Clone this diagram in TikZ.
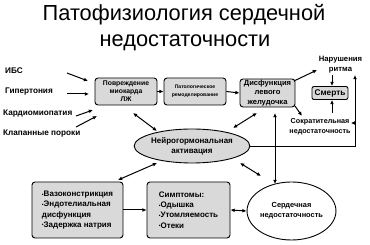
\documentclass[tikz,border=0pt]{standalone}
\usepackage{fontspec}
\setmainfont{Liberation Sans}
\usetikzlibrary{arrows.meta,shapes.geometric}
\newcommand{\bul}{{\fontsize{5}{5}\selectfont\raisebox{0.4pt}{•}}}
\begin{document}
\begin{tikzpicture}[x=1pt,y=-1pt,
  gbox/.style={draw,fill=gray!30,rounded corners=3pt,line width=0.9pt,inner sep=0pt,align=center,font=\bfseries},
  lbl/.style={font=\fontsize{8.2}{9}\selectfont\bfseries,inner sep=0pt},
  arr/.style={-{Latex[length=4.2pt,width=3.8pt]},line width=1pt},
  darr/.style={{Latex[length=4.2pt,width=3.8pt]}-{Latex[length=4.2pt,width=3.8pt]},line width=1pt},
  ln/.style={line width=1pt}]
\useasboundingbox (0,0) rectangle (370,245);
\node[font=\fontsize{21.8}{26}\selectfont,inner sep=0pt,anchor=base] (title1) at (184,21) {Патофизиология сердечной};
\node[font=\fontsize{21.8}{26}\selectfont,inner sep=0pt,anchor=base] (title2) at (185,47) {недостаточности};
% left labels
\node[lbl,anchor=west] (ibs) at (5,71) {ИБС};
\node[lbl,anchor=west] (gip) at (5,92) {Гипертония};
\node[lbl,anchor=west] (kard) at (3,114) {Кардиомиопатия};
\node[lbl,anchor=west] (klap) at (3,134) {Клапанные пороки};
% boxes
\node[gbox,minimum width=62pt,minimum height=27pt,font=\fontsize{6.8}{8}\selectfont\bfseries] (povr) at (126,91.5) {Повреждение\\миокарда\\ЛЖ};
\node[gbox,minimum width=62pt,minimum height=27pt,font=\fontsize{5.1}{8}\selectfont\bfseries] (pat) at (195,91.5) {Патологическое\\ремоделирование};
\node[gbox,minimum width=55pt,minimum height=28pt,font=\fontsize{7.6}{9.5}\selectfont\bfseries] (dis) at (267.5,93) {Дисфункция\\левого\\желудочка};
\node[gbox,minimum width=36pt,minimum height=13pt,rounded corners=2pt,font=\fontsize{8.3}{9}\selectfont\bfseries] (smert) at (330,93) {Смерть};
\node[align=center,font=\fontsize{7.7}{10}\selectfont\bfseries,inner sep=0pt] (nar) at (340.5,65) {Нарушения\\ритма};
\node[align=center,font=\fontsize{7.2}{9.5}\selectfont\bfseries,inner sep=0pt] (sokr) at (320,126.5) {Сократительная\\недостаточность};
\node[draw,ellipse,fill=gray!30,line width=0.9pt,minimum width=86pt,minimum height=34pt,inner sep=0pt,align=center,font=\fontsize{8}{10}\selectfont\bfseries] (neuro) at (192,146) {Нейрогормональная\\активация};
\node[gbox,minimum width=91pt,minimum height=56pt,align=left,font=\fontsize{8}{10.3}\selectfont\bfseries] (vaso) at (77.5,210) {\bul Вазоконстрикция\\\bul Эндотелиальная\\дисфункция\\\bul Задержка натрия};
\node[gbox,minimum width=83pt,minimum height=56pt,align=left,font=\fontsize{8}{10.3}\selectfont\bfseries] (symp) at (188.5,210) {Симптомы:\\\bul Одышка\\\bul Утомляемость\\\bul Отеки};
\node[draw,ellipse,fill=white,line width=0.9pt,minimum width=83pt,minimum height=58pt,inner sep=0pt,align=center,font=\fontsize{7.4}{10}\selectfont\bfseries] (hf) at (291.5,211) {Сердечная\\недостаточность};
% coordinates
\coordinate (a1) at (67,73); \coordinate (b1) at (88,81);
\coordinate (a2) at (67,94); \coordinate (b2) at (89,94);
\coordinate (a3) at (76,116); \coordinate (b3) at (93,110);
\coordinate (a4) at (76,127); \coordinate (b4) at (97,116);
\draw[arr] (a1) -- (b1);
\draw[arr] (a2) -- (b2);
\draw[arr] (a3) -- (b3);
\draw[arr] (a4) -- (b4);
\draw[arr] (povr.east) -- (pat.west);
\draw[arr] (pat.east) -- (dis.west);
\coordinate (c1) at (133,113); \coordinate (d1) at (157,131);
\draw[darr] (c1) -- (d1);
\coordinate (c2) at (257,113); \coordinate (d2) at (233,128);
\draw[darr] (c2) -- (d2);
\coordinate (c3) at (157,163); \coordinate (d3) at (118,180);
\draw[darr] (c3) -- (d3);
\coordinate (c4) at (240,163); \coordinate (d4) at (261,176);
\draw[darr] (c4) -- (d4);
\coordinate (e1) at (294,81); \coordinate (f1) at (317,70);
\draw[arr] (e1) -- (f1);
\coordinate (e2) at (295,106); \coordinate (f2) at (302,116);
\draw[arr] (e2) -- (f2);
\coordinate (g1) at (332,75); \coordinate (g2) at (332,113);
\draw[arr] (g1) -- (smert.north -| g1);
\draw[arr] (g2) -- (smert.south -| g2);
\coordinate (v1) at (275,113); \coordinate (v2) at (275,184);
\draw[darr] (v1) -- (v2);
\coordinate (h1) at (355,147); \coordinate (h2) at (355,75);
\draw[ln] (neuro.east |- h1) -- (h1);
\draw[arr] (h1) -- (h2);
\coordinate (s1) at (355,123);
\draw[arr] (s1) -- (sokr.east |- s1);
\draw[arr] (vaso.east) -- (symp.west);
\draw[darr] (symp.east) -- (hf.west);
\end{tikzpicture}
\end{document}
